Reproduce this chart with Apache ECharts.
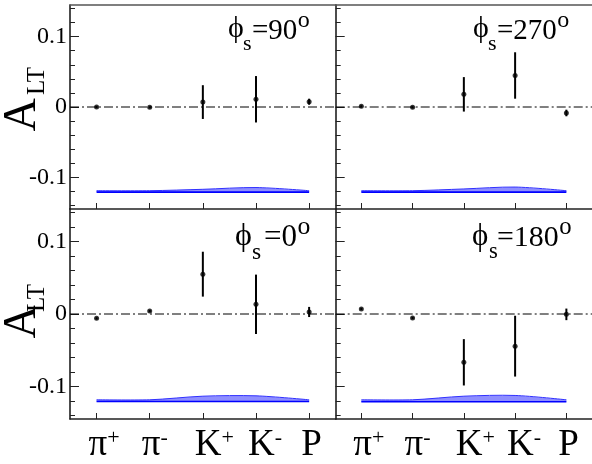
<!DOCTYPE html>
<html><head><meta charset="utf-8">
<script src="https://cdn.jsdelivr.net/npm/echarts@6/dist/echarts.min.js"></script>
<style>html,body{margin:0;padding:0;background:#fff}#c{width:592px;height:464px}</style>
</head><body><div id="c"></div>
<script>
// ---------------- data ----------------
const categories = ['π+', 'π-', 'K+', 'K-', 'P'];
const xPos = [1, 2, 3, 4, 5];
const yMajorTicks = [-0.1, 0, 0.1];
const yMinorTicks = [-0.14, -0.12, -0.1, -0.08, -0.06, -0.04, -0.02, 0, 0.02, 0.04, 0.06, 0.08, 0.1, 0.12, 0.14];
const zeroLineX = [0.5, 5.5];

const phi90Val  = [0.000, -0.0005, 0.007, 0.011, 0.0075];
const phi90Err  = [0.0015, 0.0015, 0.024, 0.033, 0.0043];
const phi270Val = [0.001, -0.0005, 0.018, 0.0448, -0.0085];
const phi270Err = [0.0015, 0.0015, 0.0245, 0.033, 0.0047];
const phi0Val   = [-0.006, 0.004, 0.055, 0.0134, 0.0028];
const phi0Err   = [0.0015, 0.0015, 0.031, 0.041, 0.007];
const phi180Val = [0.007, -0.0055, -0.0667, -0.0444, -0.0005];
const phi180Err = [0.0015, 0.0015, 0.032, 0.042, 0.008];

const band90Low   = [-0.121, -0.121, -0.121, -0.121, -0.121];
const band90High  = [-0.119, -0.119, -0.117, -0.1145, -0.119];
const band270Low  = [-0.121, -0.121, -0.121, -0.121, -0.121];
const band270High = [-0.119, -0.119, -0.1165, -0.1138, -0.119];
const band0Low    = [-0.1208, -0.1208, -0.1208, -0.1208, -0.1208];
const band0High   = [-0.1185, -0.1185, -0.1135, -0.113, -0.1185];
const band180Low  = [-0.1212, -0.1212, -0.1212, -0.1212, -0.1212];
const band180High = [-0.1185, -0.1185, -0.1135, -0.1125, -0.1185];

const phiLabels = ['=90', '=270', '=0', '=180'];

// ---------------- layout ----------------
const FONT = 'Liberation Serif';
const panels = [
  {val: phi90Val,  err: phi90Err,  low: band90Low,  high: band90High,  label: phiLabels[0],
   grid: {left: 70, top: 5, width: 265.7, height: 204}, bottomRow: false, leftCol: true,
   tx: [228, 243, 252], ty: 31, k: 1},
  {val: phi270Val, err: phi270Err, low: band270Low, high: band270High, label: phiLabels[1],
   grid: {left: 335.7, top: 5, width: 258.75, height: 204}, bottomRow: false, leftCol: false,
   tx: [473, 488, 497], ty: 31, k: 1},
  {val: phi0Val,   err: phi0Err,   low: band0Low,   high: band0High,   label: phiLabels[2],
   grid: {left: 70, top: 209, width: 265.7, height: 210}, bottomRow: true, leftCol: true,
   tx: [235, 252, 264], ty: 238, k: 1.07},
  {val: phi180Val, err: phi180Err, low: band180Low, high: band180High, label: phiLabels[3],
   grid: {left: 335.7, top: 209, width: 258.75, height: 210}, bottomRow: true, leftCol: false,
   tx: [472, 489, 497], ty: 238, k: 1.03}
];

const cv = document.createElement('canvas').getContext('2d');
function textW(t, fs) { cv.font = fs + 'px ' + FONT; return cv.measureText(t).width; }

function catLabel(v) {
  const i = xPos.indexOf(Math.round(v));
  if (i < 0) return '';
  const c = categories[i];
  const main = c[0], sup = c.slice(1);
  return sup ? '{m|' + main + '}{s|' + sup + '}' : '{m|' + main + '}';
}

const grid = [], xAxis = [], yAxis = [], series = [], graphic = [];
panels.forEach((p, i) => {
  grid.push(Object.assign({containLabel: false}, p.grid));
  xAxis.push({
    type: 'value', gridIndex: i, min: 0.5, max: 5.5, position: 'bottom',
    axisLine: {show: true, onZero: false, lineStyle: {color: '#222', width: 1.5}},
    axisTick: {show: true, inside: true, length: 6, customValues: xPos, lineStyle: {color: '#222', width: 1}},
    axisLabel: {show: p.bottomRow, customValues: xPos, margin: 8, formatter: catLabel, color: '#000',
      align: 'left', padding: [0, 0, 0, -8],
      rich: {
        m: {fontFamily: FONT, fontSize: 37, lineHeight: 36, color: '#000'},
        s: {fontFamily: FONT, fontSize: 22, lineHeight: 22, verticalAlign: 'top', color: '#000'}
      }},
    splitLine: {show: false}
  });
  xAxis.push({
    type: 'value', gridIndex: i, min: 0.5, max: 5.5, position: 'top',
    axisLine: {show: !p.bottomRow, onZero: false, lineStyle: {color: '#555', width: 1.5}},
    axisTick: {show: false}, axisLabel: {show: false}, splitLine: {show: false}
  });
  yAxis.push({
    type: 'value', gridIndex: i, min: -0.145, max: 0.145, position: 'left',
    axisLine: {show: true, onZero: false, lineStyle: {color: '#111', width: 1.5}},
    axisTick: {show: true, inside: true, length: 9, customValues: yMajorTicks, lineStyle: {color: '#222', width: 1}},
    axisLabel: {show: p.leftCol, customValues: yMajorTicks, margin: 3, color: '#000',
      fontFamily: FONT, fontSize: 24,
      formatter: v => (Math.abs(v) < 1e-9 ? '0' : v.toFixed(1))},
    splitLine: {show: false}
  });
  yAxis.push({
    type: 'value', gridIndex: i, min: -0.145, max: 0.145, position: 'left',
    axisLine: {show: false, onZero: false},
    axisTick: {show: true, inside: true, length: 5, customValues: yMinorTicks, lineStyle: {color: '#222', width: 1}},
    axisLabel: {show: false}, splitLine: {show: false}
  });
  const xi = 2 * i, yi = 2 * i;
  series.push({
    type: 'line', xAxisIndex: xi, yAxisIndex: yi, silent: true, symbol: 'none',
    data: zeroLineX.map(x => [x, 0]),
    lineStyle: {color: '#000', width: 1, type: [9, 3, 2, 3]}, z: 2
  });
  series.push({
    type: 'custom', xAxisIndex: xi, yAxisIndex: yi, silent: true, z: 3,
    data: xPos.map((x, j) => [x, p.low[j], p.high[j]]),
    renderItem: (params, api) => {
      if (params.dataIndex !== 0) return null;
      const lowPts = xPos.map((x, j) => api.coord([x, p.low[j]]));
      const highPts = xPos.map((x, j) => api.coord([x, p.high[j]]));
      return {type: 'group', children: [
        {type: 'polygon', shape: {points: lowPts.concat(highPts.slice().reverse())},
          style: {fill: 'rgba(50,50,255,0.55)', stroke: null}},
        {type: 'polyline', shape: {points: highPts, smooth: 0.3},
          style: {stroke: '#3030ff', lineWidth: 1, fill: null}},
        {type: 'polyline', shape: {points: lowPts},
          style: {stroke: '#0000ff', lineWidth: 1.6, fill: null}}
      ]};
    }
  });
  series.push({
    type: 'custom', xAxisIndex: xi, yAxisIndex: yi, silent: true,
    data: xPos.map((x, j) => [x, p.val[j], p.err[j]]),
    renderItem: (params, api) => {
      const x = api.value(0), y = api.value(1), e = api.value(2);
      const a = api.coord([x, y - e]), b = api.coord([x, y + e]);
      return {type: 'line', shape: {x1: a[0], y1: a[1], x2: b[0], y2: b[1]},
        style: {stroke: '#000', lineWidth: 2}};
    }, z: 5
  });
  series.push({
    type: 'scatter', xAxisIndex: xi, yAxisIndex: yi, silent: true,
    symbol: 'circle', symbolSize: 5,
    data: xPos.map((x, j) => [x, p.val[j]]),
    itemStyle: {color: '#000'}, z: 6
  });

  const k = p.k;
  const fsMain = 29 * k, fsPhi = 30 * k, fsSub = 22 * k, fsSup = 24 * k;
  const mainW = textW(p.label, fsMain);
  const mk = (text, x, cy, fs) => ({type: 'text', x: x, y: cy, silent: true,
    style: {text: text, fontFamily: FONT, fontSize: fs, fill: '#000', align: 'left', verticalAlign: 'middle'}});
  graphic.push(mk('ϕ', p.tx[0], p.ty - 1.4 * k, fsPhi));
  graphic.push(mk('s', p.tx[1], p.ty + 13.6 * k, fsSub));
  graphic.push(mk(p.label, p.tx[2], p.ty, fsMain));
  graphic.push(mk('o', p.tx[2] + mainW + 0.5, p.ty - 10 * k, fsSup));
});

[[115, 81], [322, 298]].forEach(([ya, yl]) => {
  graphic.push({type: 'text', x: 23, y: ya, rotation: Math.PI / 2, silent: true,
    style: {text: 'A', fontFamily: FONT, fontSize: 46, fill: '#000', align: 'center', verticalAlign: 'middle'}});
  graphic.push({type: 'text', x: 37, y: yl, rotation: Math.PI / 2, silent: true,
    style: {text: 'LT', fontFamily: FONT, fontSize: 25, fill: '#000', align: 'center', verticalAlign: 'middle'}});
});

const chart = echarts.init(document.getElementById('c'), null, {renderer: 'canvas'});
chart.setOption({
  animation: false,
  backgroundColor: '#fff',
  textStyle: {fontFamily: FONT},
  grid: grid, xAxis: xAxis, yAxis: yAxis, series: series, graphic: graphic
});
</script></body></html>
